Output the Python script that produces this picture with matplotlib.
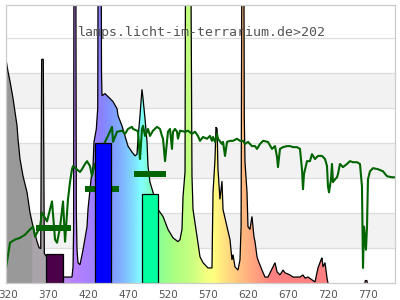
import numpy as np
import matplotlib
matplotlib.use("Agg")
import matplotlib.pyplot as plt
from matplotlib.patches import Polygon

# ---------------- data ----------------
tick_values = [320, 370, 420, 470, 520, 570, 620, 670, 720, 770]
tick_labels = ["320", "370", "420", "470", "520", "570", "620", "670", "720", "770"]

# lamp spectrum (wavelength nm, relative intensity)
lamp_wl = [317.1, 319.6, 322.1, 325.9, 328.4, 330.9, 332.1, 334.6, 338.4, 343.4,
           347.1, 350.9, 355.9, 358.4, 360.5, 361.7, 363.7, 365.0, 365.9, 378.4,
           388.4, 390.9, 399.6, 400.9, 401.6, 402.2, 404.2, 405.0, 405.9, 407.1,
           409.6, 413.4, 418.4, 419.6, 423.4, 425.9, 427.1, 430.0, 431.8, 432.5,
           435.8, 436.5, 437.1, 440.9, 443.4, 447.1, 450.9, 455.9, 457.1, 462.1,
           465.9, 469.6, 474.6, 478.4, 480.9, 482.1, 484.6, 487.1, 488.4, 490.9,
           493.4, 494.6, 497.1, 500.9, 507.1, 513.4, 519.6, 525.9, 532.1, 534.6,
           537.1, 538.4, 540.9, 541.8, 547.6, 549.6, 550.9, 555.9, 559.6, 563.4,
           569.6, 574.6, 575.9, 578.4, 579.6, 581.0, 582.1, 584.6, 587.1, 588.4,
           593.4, 597.1, 599.6, 600.9, 603.4, 607.1, 609.6, 611.0, 611.6, 612.4,
           614.2, 615.0, 615.9, 618.4, 619.6, 622.1, 624.6, 627.1, 628.4, 630.9,
           632.1, 637.1, 640.9, 644.6, 650.9, 653.4, 655.9, 659.6, 663.4, 665.9,
           672.1, 675.9, 684.6, 688.4, 690.9, 694.6, 699.6, 703.4, 707.1, 710.9,
           712.1, 713.4, 715.9, 718.4, 719.6]
lamp_val = [6.39, 6.04, 5.76, 5.27, 4.89, 4.49, 4.12, 3.54, 3.05, 2.59,
            2.01, 1.61, 1.18, 1.01, 0.98, 6.39, 6.39, 0.85, 0.81, 0.43,
            0.17, 0.17, 0.17, 0.46, 1.5, 12.0, 12.0, 2.0, 0.95, 0.58,
            0.52, 0.95, 1.61, 2.10, 2.96, 3.34, 4.03, 4.4, 5.0, 12.0,
            12.0, 6.0, 5.35, 5.41, 5.35, 5.27, 5.18, 4.98, 4.78, 4.49,
            4.20, 3.91, 3.74, 3.63, 3.68, 4.12, 4.78, 5.53, 5.27, 4.69,
            4.03, 3.34, 2.88, 2.59, 2.10, 1.90, 1.53, 1.29, 1.18, 1.24,
            1.53, 2.47, 3.17, 12.0, 12.0, 3.05, 2.10, 1.32, 0.75, 0.58,
            0.43, 0.43, 2.59, 3.54, 4.45, 4.40, 3.25, 2.39, 2.91, 2.10,
            1.61, 1.24, 0.66, 0.81, 0.46, 0.37, 0.66, 1.61, 6.8, 12.0,
            12.0, 4.7, 3.45, 2.59, 1.61, 1.53, 1.90, 1.32, 1.18, 0.75,
            0.66, 0.37, 0.17, 0.17, 0.46, 0.58, 0.32, 0.23, 0.37, 0.29,
            0.23, 0.17, 0.17, 0.23, 0.14, 0.17, 0.09, 0.03, 0.43, 0.66,
            0.72, 0.46, 0.58, 0.14, 0.0]

# tiny far-red emission
ir_wl = [765.8, 766.3, 768.3, 768.8]
ir_val = [0.0, 0.07, 0.07, 0.0]

# sunlight reference spectrum
sun_wl = [317.1, 322.1, 328.4, 334.6, 340.9, 347.1, 350.9, 353.4, 359.6, 362.1,
          368.4, 374.6, 378.4, 380.9, 384.6, 388.4, 390.9, 394.6, 397.1, 399.6,
          400.9, 409.6, 412.1, 415.9, 418.4, 422.1, 424.6, 427.0, 432.0, 438.0,
          444.6, 449.6, 450.9, 455.9, 462.1, 465.9, 469.6, 474.6, 475.9, 480.9,
          482.1, 484.6, 487.1, 488.4, 490.9, 493.4, 494.6, 497.1, 500.9, 505.9,
          509.6, 512.1, 513.4, 515.9, 518.4, 519.6, 522.1, 524.6, 525.9, 528.4,
          530.9, 532.1, 534.6, 540.9, 544.6, 549.6, 553.4, 557.1, 559.6, 563.4,
          568.4, 572.1, 574.6, 575.9, 578.4, 580.9, 582.1, 587.1, 588.4, 590.9,
          593.4, 597.1, 600.9, 605.9, 609.6, 613.4, 615.9, 619.6, 624.6, 628.4,
          630.9, 634.6, 638.4, 644.6, 649.6, 653.4, 655.9, 657.1, 659.6, 663.4,
          668.4, 672.1, 675.9, 680.9, 684.6, 687.1, 688.4, 689.6, 693.4, 697.1,
          699.6, 703.4, 707.1, 712.1, 715.9, 718.4, 719.6, 720.9, 723.4, 724.6,
          725.9, 728.4, 730.9, 732.1, 734.6, 738.4, 743.4, 747.1, 750.9, 755.9,
          759.6, 762.1, 763.4, 764.6, 767.1, 768.4, 769.6, 772.1, 775.9, 782.1,
          788.4, 793.4, 799.6, 803.4]
sun_val = [0.43, 1.15, 1.24, 1.29, 1.38, 1.53, 1.61, 1.32, 1.61, 2.01,
           1.76, 2.33, 1.24, 1.15, 1.58, 2.33, 1.18, 2.39, 2.88, 3.25,
           3.34, 3.17, 3.25, 3.40, 3.48, 3.34, 3.05, 3.3, 3.6, 3.9,
           4.20, 4.46, 4.03, 4.32, 4.35, 4.26, 4.40, 4.46, 4.40, 4.35,
           4.32, 3.54, 4.40, 4.49, 4.20, 4.32, 4.40, 4.20, 4.35, 4.46,
           4.40, 4.20, 4.12, 3.48, 4.06, 4.32, 4.40, 3.83, 4.32, 4.40,
           4.32, 4.12, 4.35, 4.32, 4.35, 4.26, 4.32, 4.20, 4.06, 4.17,
           4.12, 4.20, 4.06, 4.17, 4.03, 4.26, 4.12, 3.97, 4.03, 3.63,
           4.03, 4.06, 4.06, 4.12, 4.06, 4.06, 3.97, 4.03, 3.91, 3.91,
           3.83, 3.97, 4.06, 4.03, 3.83, 3.91, 3.60, 3.31, 3.83, 3.88,
           3.91, 3.91, 3.88, 3.88, 3.83, 3.25, 2.68, 3.11, 3.48, 3.48,
           3.68, 3.54, 3.63, 3.63, 3.54, 3.34, 2.76, 2.59, 2.96, 3.40,
           2.88, 2.96, 3.02, 3.11, 3.40, 3.31, 3.40, 3.48, 3.45, 3.45,
           3.40, 2.76, 0.43, 1.61, 0.95, 1.61, 2.96, 3.19, 3.28, 3.25,
           3.19, 3.05, 3.02, 3.02]

# lamp band sums (bars) and sunlight band levels (segments)
bar_start = [367.1, 427.9, 486.7]
bar_end = [387.9, 448.0, 506.6]
bar_value = [0.82, 4.0, 2.53]
bar_colors = ["#4b0049", "#0000ff", "#00ff9e"]

seg_start = [354.6, 415.9, 476.6]
seg_end = [398.4, 458.4, 516.8]
seg_value = [1.58, 2.69, 3.10]

# pastel wavelength colour stops for the spectrum fill
grad_wl = [317, 349.5, 350, 380, 390, 405, 425, 436, 445, 458, 472, 486,
           500, 512, 530, 550, 565, 576, 592, 610, 630, 650, 804]
grad_hex = ["#999999", "#999999", "#aaa4aa", "#aaa4aa", "#bc8cec", "#b880ff",
            "#a080ff", "#8c80ff", "#8090ff", "#80aaff", "#80d0ff", "#80ffff",
            "#80ffb8", "#90ff90", "#b0ff80", "#c8ff80", "#eeff80", "#ffff80",
            "#ffe080", "#ffc080", "#ffa080", "#ff8080", "#ff8080"]

title = "lamps.licht-im-terrarium.de>202"

# ---------------- figure ----------------
fig = plt.figure(figsize=(4, 3), dpi=100)
ax = fig.add_axes([6 / 400, 17 / 300, 389 / 400, 278 / 300])
XMIN, XMAX, YMAX = 317.1, 803.4, 7.94
ax.set_xlim(XMIN, XMAX)
ax.set_ylim(0, YMAX)

for lo in (1, 3, 5):
    ax.axhspan(lo, lo + 1, color="#f2f2f2", zorder=0, lw=0)
for g in range(1, 8):
    ax.axhline(g, color="#dddddd", lw=0.9, zorder=0.5)

fig.text(78 / 400, 1 - 36 / 300, title, family="DejaVu Sans Mono",
         fontsize=9.5, color="#555555", va="baseline", ha="left", zorder=1)

# gradient image
gx = np.linspace(XMIN, XMAX, 1200)
rgb = np.array([matplotlib.colors.to_rgb(h) for h in grad_hex])
cols = np.stack([np.interp(gx, grad_wl, rgb[:, k]) for k in range(3)], axis=-1)
grad_img = cols[np.newaxis, :, :]


def spectrum(wl, val):
    verts = np.column_stack([np.r_[wl[0], wl, wl[-1]], np.r_[0, val, 0]])
    patch = Polygon(verts, closed=True, facecolor="none", edgecolor="none")
    ax.add_patch(patch)
    im = ax.imshow(grad_img, extent=[XMIN, XMAX, 0, YMAX], aspect="auto",
                   origin="lower", zorder=2, interpolation="bilinear")
    im.set_clip_path(patch)
    ax.plot(wl, val, color="black", lw=0.9, zorder=3, solid_joinstyle="miter")


spectrum(lamp_wl, lamp_val)
spectrum(ir_wl, ir_val)

ax.plot(sun_wl, sun_val, color="#006400", lw=1.5, zorder=4)
ax.hlines(seg_value, seg_start, seg_end, color="#006400", lw=4.3,
          zorder=5, capstyle="butt")

widths = [e - s for s, e in zip(bar_start, bar_end)]
ax.bar(bar_start, bar_value, width=widths, align="edge", color=bar_colors,
       edgecolor="black", lw=0.9, zorder=6)

ax.set_xlim(XMIN, XMAX)
ax.set_ylim(0, YMAX)
ax.set_xticks(tick_values)
ax.set_xticklabels(tick_labels)
ax.set_yticks([])
ax.tick_params(axis="x", length=0, pad=5, labelsize=7.5, labelcolor="#555555")
for s in ax.spines.values():
    s.set_color("#cccccc")
    s.set_linewidth(0.9)
    s.set_zorder(7)

fig.savefig("out.png", dpi=100)
